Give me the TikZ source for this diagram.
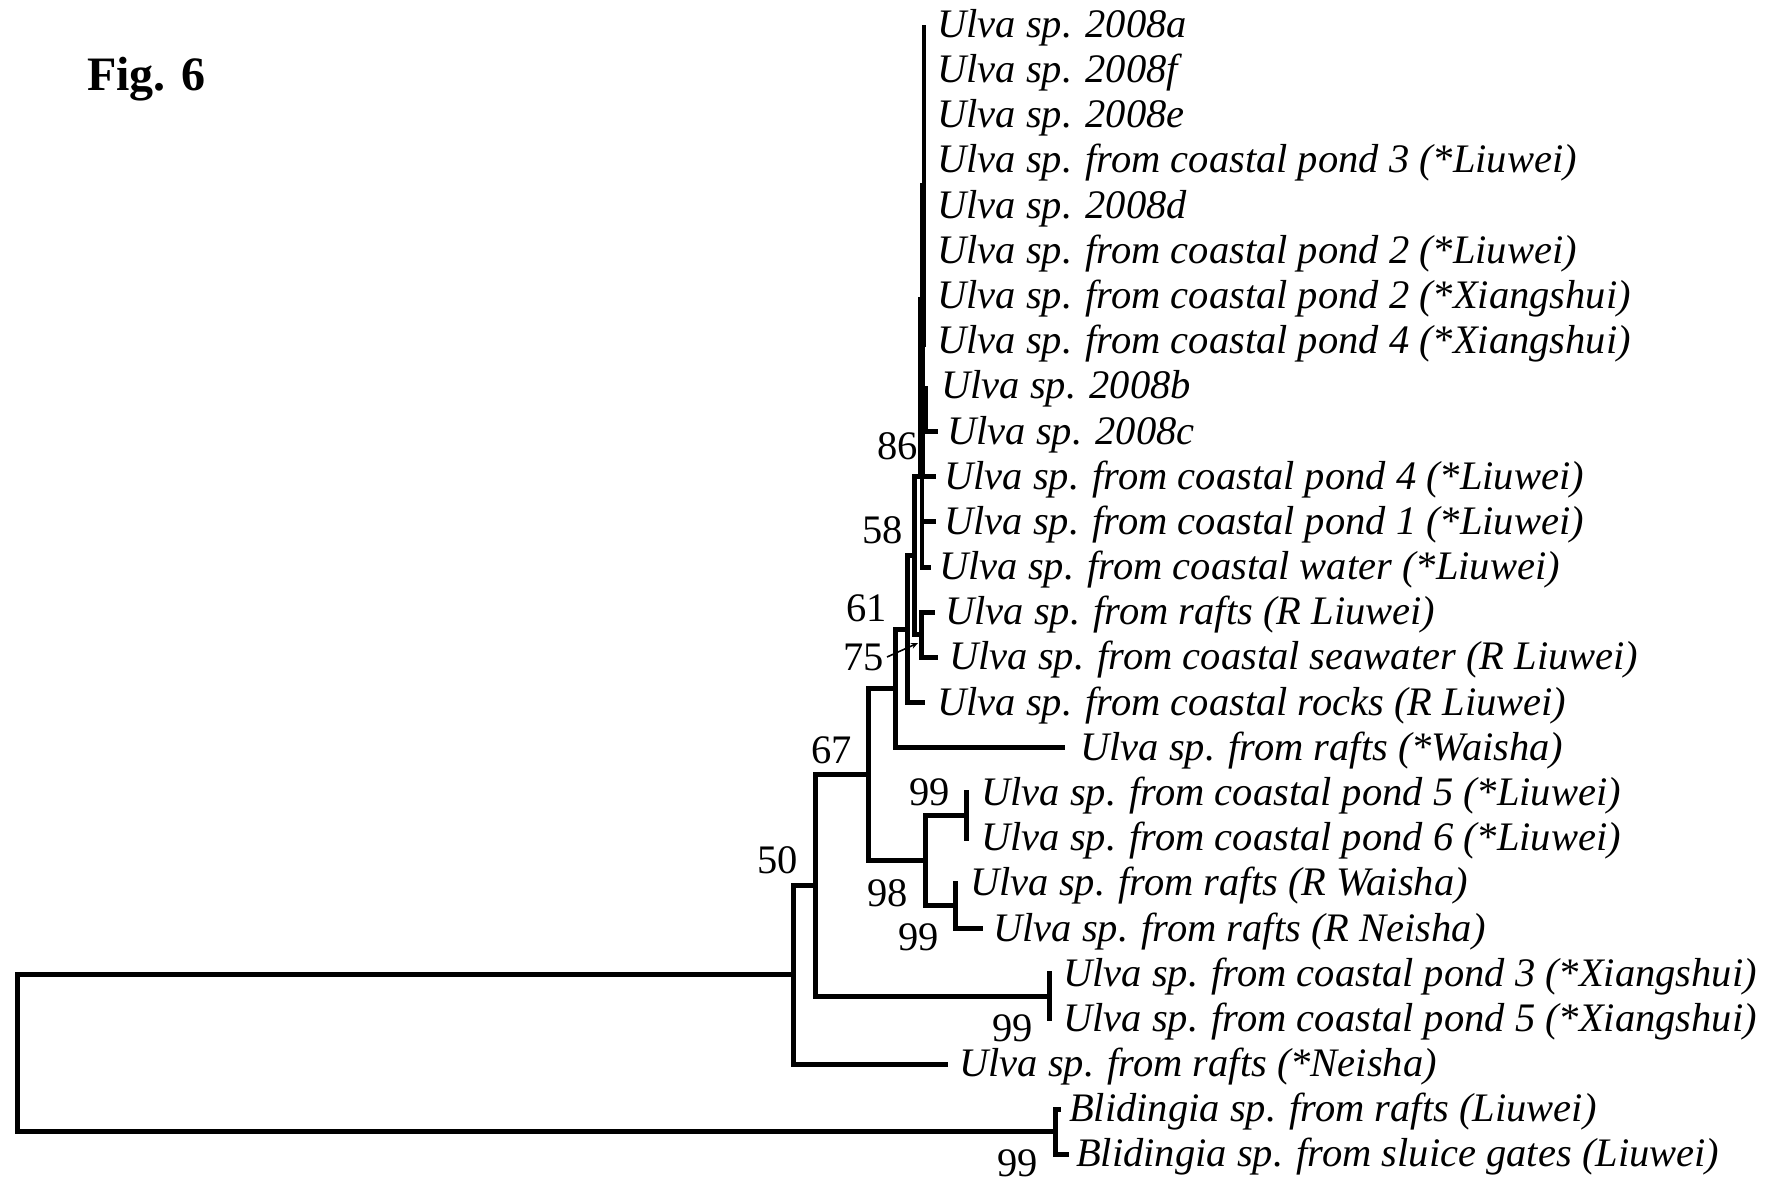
\documentclass[tikz,border=0pt]{standalone}
\usepackage{fontspec}
\setmainfont{Liberation Serif}
\usetikzlibrary{arrows.meta}
\newcommand\labfont{\fontsize{40.5}{48}\selectfont\itshape}
\newcommand\supfont{\fontsize{40.5}{48}\selectfont}
\begin{document}
\begin{tikzpicture}[x=1pt,y=-1pt,
  br/.style={line width=5pt, line join=miter, line cap=rect},
  lab/.style={anchor=base west, inner sep=0pt, font=\labfont, yshift=-12.5pt},
  supp/.style={anchor=east, inner sep=0pt, font=\supfont}]
\useasboundingbox[fill=white] (0,0) rectangle (1771,1178);
% title
\node[anchor=base west, inner sep=0pt, font=\fontsize{48}{56}\selectfont\bfseries] (title) at (87,90) {Fig. 6};
% top clade (rows 0--12)
\fill (921.5,24.9) rectangle (926,347);
\fill (919.5,183) rectangle (926,347);
\fill (918,297) rectangle (926,347);
\fill (918,347) rectangle (924.5,477);
\fill (918,386) rectangle (928,431.5);
\fill (920,477) rectangle (924,569.5);
\draw[br] (923,431.5) -- (935,431.5);
\draw[br] (923,521.8) -- (933,521.8);
\draw[br] (922,567) -- (928,567);
% internal nodes
\draw[br] (932,612.2) -- (921,612.2) -- (921,657.4) -- (935,657.4);
\draw[br] (933,476.7) -- (914,476.7) -- (914,634.8) -- (921,634.8);
\draw[br] (914,555.8) -- (907,555.8) -- (907,702.6) -- (922,702.6);
\draw[br] (907,629.2) -- (895,629.2) -- (895,747.7) -- (1062,747.7);
\draw[br] (966,792.9) -- (966,838.1);
\draw[br] (955,883.3) -- (955,928.5) -- (980,928.5);
\draw[br] (966,815.5) -- (925,815.5) -- (925,905.9) -- (955,905.9);
\draw[br] (895,688.5) -- (868,688.5) -- (868,860.7) -- (925,860.7);
\draw[br] (1049,973.6) -- (1049,1018.8);
\draw[br] (868,774.6) -- (815,774.6) -- (815,996.2) -- (1049,996.2);
\draw[br] (815,885.4) -- (793,885.4) -- (793,1064) -- (945,1064);
\draw[br] (1058,1109.2) -- (1055,1109.2) -- (1055,1154.4) -- (1066,1154.4);
\draw[br] (793,974.7) -- (17,974.7) -- (17,1131.8) -- (1055,1131.8);
% leaf labels
\node[lab] (l0) at (937,24.9) {Ulva sp. 2008a};
\node[lab] (l1) at (937,70.0) {Ulva sp. 2008f};
\node[lab] (l2) at (937,115.2) {Ulva sp. 2008e};
\node[lab] (l3) at (937,160.4) {Ulva sp. from coastal pond 3 (*Liuwei)};
\node[lab] (l4) at (937,205.6) {Ulva sp. 2008d};
\node[lab] (l5) at (937,250.8) {Ulva sp. from coastal pond 2 (*Liuwei)};
\node[lab] (l6) at (937,295.9) {Ulva sp. from coastal pond 2 (*Xiangshui)};
\node[lab] (l7) at (937,341.1) {Ulva sp. from coastal pond 4 (*Xiangshui)};
\node[lab] (l8) at (941,386.3) {Ulva sp. 2008b};
\node[lab] (l9) at (947,431.5) {Ulva sp. 2008c};
\node[lab] (l10) at (944,476.7) {Ulva sp. from coastal pond 4 (*Liuwei)};
\node[lab] (l11) at (944,521.8) {Ulva sp. from coastal pond 1 (*Liuwei)};
\node[lab] (l12) at (939,567.0) {Ulva sp. from coastal water (*Liuwei)};
\node[lab] (l13) at (945,612.2) {Ulva sp. from rafts (R Liuwei)};
\node[lab] (l14) at (949,657.4) {Ulva sp. from coastal seawater (R Liuwei)};
\node[lab] (l15) at (937,702.6) {Ulva sp. from coastal rocks (R Liuwei)};
\node[lab] (l16) at (1080,747.7) {Ulva sp. from rafts (*Waisha)};
\node[lab] (l17) at (981,792.9) {Ulva sp. from coastal pond 5 (*Liuwei)};
\node[lab] (l18) at (981,838.1) {Ulva sp. from coastal pond 6 (*Liuwei)};
\node[lab] (l19) at (970,883.3) {Ulva sp. from rafts (R Waisha)};
\node[lab] (l20) at (993,928.5) {Ulva sp. from rafts (R Neisha)};
\node[lab] (l21) at (1063,973.6) {Ulva sp. from coastal pond 3 (*Xiangshui)};
\node[lab] (l22) at (1063,1018.8) {Ulva sp. from coastal pond 5 (*Xiangshui)};
\node[lab] (l23) at (959,1064.0) {Ulva sp. from rafts (*Neisha)};
\node[lab] (l24) at (1069,1109.2) {Blidingia sp. from rafts (Liuwei)};
\node[lab] (l25) at (1076,1154.4) {Blidingia sp. from sluice gates (Liuwei)};
% support values
\node[supp] (s86) at (918,446) {86};
\node[supp] (s58) at (903,530) {58};
\node[supp] (s61) at (887,608) {61};
\node[supp] (s75) at (884,657) {75};
\node[supp] (s67) at (852,750) {67};
\node[supp] (s50) at (798,860) {50};
\node[supp] (s99a) at (950,792) {99};
\node[supp] (s98) at (908,893) {98};
\node[supp] (s99b) at (939,937) {99};
\node[supp] (s99c) at (1033,1028) {99};
\node[supp] (s99d) at (1038,1163) {99};
\coordinate (c75) at (918,643);
\draw[line width=1.6pt, -{Stealth[length=7pt,width=6pt]}] (s75.east) ++(3,0) -- (c75);
\end{tikzpicture}
\end{document}
